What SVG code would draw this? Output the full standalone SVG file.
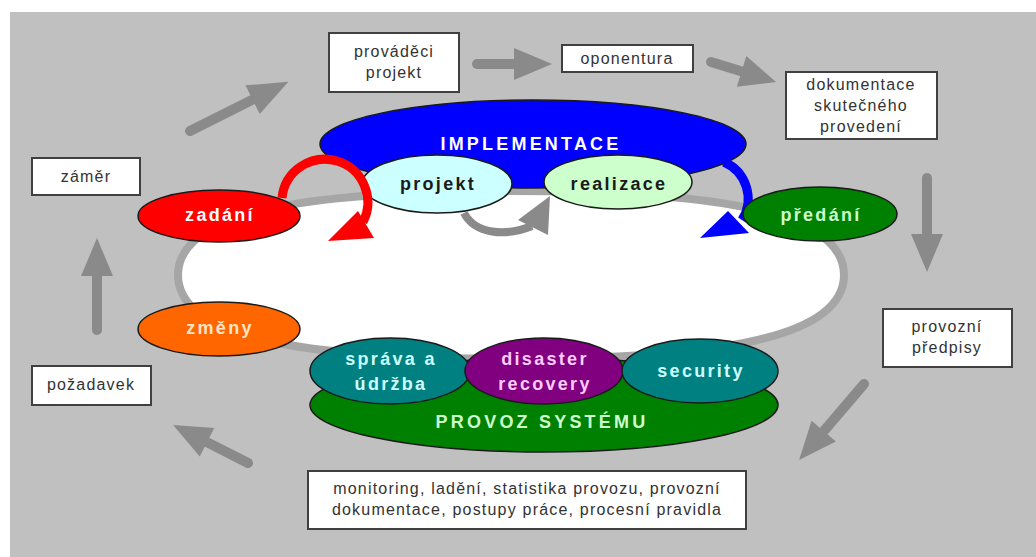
<svg xmlns="http://www.w3.org/2000/svg" width="1036" height="557" viewBox="0 0 1036 557">
  <style>
    .box { fill: #ffffff; stroke: #404040; stroke-width: 2; }
    .boxtext { font-family: "Liberation Sans", Arial, sans-serif; font-size: 16px; fill: #333333; text-anchor: middle; letter-spacing: 1.2px; }
    .node { stroke: #1a1a1a; stroke-width: 1.5; }
    .lbl { font-family: "Liberation Sans", Arial, sans-serif; font-size: 18px; font-weight: bold; text-anchor: middle; letter-spacing: 2.3px; }
    .caps { font-family: "Liberation Sans", Arial, sans-serif; font-size: 18px; font-weight: bold; text-anchor: middle; letter-spacing: 3.2px; }
    .shaft { stroke: #8a8a8a; stroke-width: 10; stroke-linecap: round; fill: none; }
    .head { fill: #8a8a8a; }
  </style>

  <!-- panel background -->
  <rect x="10" y="12" width="1026" height="545" fill="#c0c0c0"/>

  <!-- central cycle ring -->
  <g id="cycle">
    <path d="M 178,275 C 178,213 300,191 511,191 C 722,191 844,213 844,275 C 844,337 722,359 511,359 C 300,359 178,337 178,275 Z" fill="#ffffff" stroke="#a6a6a6" stroke-width="8"/>
  </g>

  <!-- connectors -->
  <g id="connectors">
    <!-- outer cycle arrows -->
    <g transform="translate(190,131) rotate(-26.6)">
      <line class="shaft" x1="0" y1="0" x2="75" y2="0"/>
      <polygon class="head" points="70,-16 110,0 70,16"/>
    </g>
    <g transform="translate(477,64)">
      <line class="shaft" x1="0" y1="0" x2="40" y2="0"/>
      <polygon class="head" points="37,-16 75,0 37,16"/>
    </g>
    <g transform="translate(711,62) rotate(17.1)">
      <line class="shaft" x1="0" y1="0" x2="35" y2="0"/>
      <polygon class="head" points="32,-16 68,0 32,16"/>
    </g>
    <g transform="translate(927,178) rotate(90)">
      <line class="shaft" x1="0" y1="0" x2="60" y2="0"/>
      <polygon class="head" points="56,-16 94,0 56,16"/>
    </g>
    <g transform="translate(864,384) rotate(130.5)">
      <line class="shaft" x1="0" y1="0" x2="65" y2="0"/>
      <polygon class="head" points="62,-16 100,0 62,16"/>
    </g>
    <g transform="translate(248,463) rotate(206.9)">
      <line class="shaft" x1="0" y1="0" x2="50" y2="0"/>
      <polygon class="head" points="46,-16 84,0 46,16"/>
    </g>
    <g transform="translate(97,330) rotate(-90)">
      <line class="shaft" x1="0" y1="0" x2="58" y2="0"/>
      <polygon class="head" points="54,-16 92,0 54,16"/>
    </g>

    <!-- projekt to realizace -->
    <path d="M 464,213 C 475,234 505,237 532,226" fill="none" stroke="#8a8a8a" stroke-width="8"/>
    <polygon points="550,196 518,220 548,235" fill="#8a8a8a"/>
  </g>

  <!-- implementation phase -->
  <g id="implementace">
    <ellipse class="node" cx="533" cy="144" rx="213" ry="44" fill="#0000ff"/>
    <text class="caps" x="531" y="150" fill="#ffffff">IMPLEMENTACE</text>
  </g>

  <g id="projekt">
    <ellipse class="node" cx="437" cy="184" rx="75" ry="29" fill="#ccffff"/>
    <text class="lbl" x="438" y="190" fill="#1a1a1a">projekt</text>
  </g>

  <g id="realizace">
    <ellipse class="node" cx="618" cy="182" rx="74" ry="27" fill="#ccffcc"/>
    <text class="lbl" x="619" y="190" fill="#1a1a1a">realizace</text>
  </g>

  <g id="zadani">
    <ellipse class="node" cx="219" cy="216" rx="81" ry="26" fill="#ff0000"/>
    <text class="lbl" x="220" y="221" fill="#ffffff">zadání</text>
  </g>

  <!-- loop arrows of the implementation phase -->
  <g id="loops">
    <path d="M 282,198 A 43 43 0 1 1 363,222" fill="none" stroke="#ff0000" stroke-width="9"/>
    <polygon points="328,241 358,211 374,238" fill="#ff0000"/>
    <path d="M 724,162 A 40 40 0 0 1 742,220" fill="none" stroke="#0000ff" stroke-width="9"/>
    <polygon points="700,238 728,211 749,233" fill="#0000ff"/>
  </g>

  <g id="predani">
    <ellipse class="node" cx="820" cy="214" rx="77" ry="27" fill="#008000"/>
    <text class="lbl" x="821" y="221" fill="#ccffcc">předání</text>
  </g>

  <g id="zmeny">
    <ellipse class="node" cx="219" cy="329" rx="81" ry="27" fill="#ff6600"/>
    <text class="lbl" x="220" y="334" fill="#ffe4c4">změny</text>
  </g>

  <!-- operation phase -->
  <g id="provoz">
    <ellipse class="node" cx="544" cy="405" rx="234" ry="47" fill="#008000"/>
    <text class="caps" x="542" y="428" fill="#ccffcc">PROVOZ SYSTÉMU</text>
  </g>

  <g id="sprava">
    <ellipse class="node" cx="390" cy="371" rx="80" ry="33" fill="#008080"/>
    <text class="lbl" x="391" y="365" fill="#ccffff">správa a</text>
    <text class="lbl" x="391" y="390" fill="#ccffff">údržba</text>
  </g>

  <g id="disaster">
    <ellipse class="node" cx="544" cy="371" rx="79" ry="33" fill="#800080"/>
    <text class="lbl" x="545" y="365" fill="#ffccff">disaster</text>
    <text class="lbl" x="545" y="390" fill="#ffccff">recovery</text>
  </g>

  <g id="security">
    <ellipse class="node" cx="700" cy="371" rx="78" ry="32" fill="#008080"/>
    <text class="lbl" x="701" y="377" fill="#ccffff">security</text>
  </g>

  <!-- document boxes -->
  <g id="zamer">
    <rect class="box" x="32" y="158" width="108" height="37"/>
    <text class="boxtext" x="86" y="182">záměr</text>
  </g>

  <g id="provadeci-projekt">
    <rect class="box" x="329" y="33" width="130" height="59"/>
    <text class="boxtext" x="394" y="57">prováděci</text>
    <text class="boxtext" x="394" y="78">projekt</text>
  </g>

  <g id="oponentura">
    <rect class="box" x="562" y="45" width="131" height="27"/>
    <text class="boxtext" x="627" y="64">oponentura</text>
  </g>

  <g id="dokumentace">
    <rect class="box" x="786" y="72" width="151" height="67"/>
    <text class="boxtext" x="861" y="90">dokumentace</text>
    <text class="boxtext" x="861" y="111">skutečného</text>
    <text class="boxtext" x="861" y="132">provedení</text>
  </g>

  <g id="predpisy">
    <rect class="box" x="883" y="309" width="129" height="58"/>
    <text class="boxtext" x="947" y="332">provozní</text>
    <text class="boxtext" x="947" y="353">předpisy</text>
  </g>

  <g id="pozadavek">
    <rect class="box" x="32" y="366" width="119" height="39"/>
    <text class="boxtext" x="91" y="390">požadavek</text>
  </g>

  <g id="monitoring">
    <rect class="box" x="308" y="471" width="438" height="58"/>
    <text class="boxtext" x="527" y="494">monitoring, ladění, statistika provozu, provozní</text>
    <text class="boxtext" x="527" y="515">dokumentace, postupy práce, procesní pravidla</text>
  </g>
</svg>
